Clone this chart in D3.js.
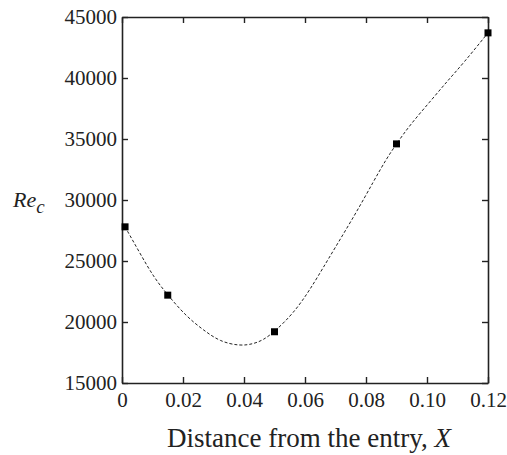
<!DOCTYPE html>
<html><head><meta charset="utf-8">
<script src="https://cdn.jsdelivr.net/npm/d3@7"></script>
<style>body{margin:0;background:#fff}svg{display:block}
svg text{font-family:"Liberation Serif","Tinos","DejaVu Serif",serif !important;}</style>
</head><body>
<svg id="c" width="507" height="455"></svg>
<script>
// Data points (markers)
const pointX = [0.001, 0.015, 0.050, 0.090, 0.120];
const pointY = [27800, 22200, 19200, 34600, 43700];
// Fitted curve
const curveX = [0.001, 0.0059, 0.0103, 0.015, 0.0212, 0.0267, 0.0321, 0.0387, 0.0430, 0.0463, 0.050, 0.0562, 0.0616, 0.0671, 0.0770, 0.0824, 0.0868, 0.090, 0.0944, 0.1010, 0.1065, 0.1119, 0.120];
const curveY = [27800, 25630, 23710, 22200, 20430, 19340, 18390, 18030, 18200, 18520, 19200, 20710, 22620, 24940, 29040, 31500, 33420, 34600, 36150, 38060, 39700, 41200, 43700];
const xTicks = [0, 0.02, 0.04, 0.06, 0.08, 0.10, 0.12];
const xTickLabels = ["0", "0.02", "0.04", "0.06", "0.08", "0.10", "0.12"];
const yTicks = [15000, 20000, 25000, 30000, 35000, 40000, 45000];

(function () {
const L = 122, R = 488, T = 17, B = 383;
const svg = d3.select("#c");
const x = d3.scaleLinear().domain([0, 0.12]).range([L, R]);
const y = d3.scaleLinear().domain([15000, 45000]).range([B, T]);

// curve
const line = d3.line().x(d => x(d[0])).y(d => y(d[1])).curve(d3.curveBasis);
svg.append("path").datum(curveX.map((v, i) => [v, curveY[i]]))
  .attr("d", line).attr("fill", "none").attr("stroke", "#222")
  .attr("stroke-width", 1).attr("stroke-dasharray", "3,2");

// axes
const tl = 6;
const gBottom = svg.append("g").attr("transform", `translate(0,${B})`)
  .call(d3.axisBottom(x).tickValues(xTicks).tickFormat((d, i) => xTickLabels[i]).tickSizeInner(-tl).tickSizeOuter(0).tickPadding(9));
const gTop = svg.append("g").attr("transform", `translate(0,${T})`)
  .call(d3.axisTop(x).tickValues(xTicks).tickFormat("").tickSizeInner(-tl).tickSizeOuter(0));
const gLeft = svg.append("g").attr("transform", `translate(${L},0)`)
  .call(d3.axisLeft(y).tickValues(yTicks).tickSizeInner(-tl).tickSizeOuter(0).tickPadding(5).tickFormat(d3.format("d")));
const gRight = svg.append("g").attr("transform", `translate(${R},0)`)
  .call(d3.axisRight(y).tickValues(yTicks).tickFormat("").tickSizeInner(-tl).tickSizeOuter(0));
[gBottom, gTop, gLeft, gRight].forEach(g => {
  g.attr("font-family", null);
  g.selectAll(".domain").attr("stroke", "#222").attr("stroke-width", 1.6);
  g.selectAll(".tick line").attr("stroke", "#222").attr("stroke-width", 1.4);
  g.selectAll("text").attr("font-size", 21).attr("fill", "#222");
});

// markers
const s = 7;
svg.append("g").selectAll("rect").data(pointX.map((v, i) => [v, pointY[i]])).join("rect")
  .attr("x", d => x(d[0]) - s / 2).attr("y", d => y(d[1]) - s / 2)
  .attr("width", s).attr("height", s).attr("fill", "#000");

// axis titles
const xt = svg.append("text").attr("x", 309).attr("y", 447).attr("text-anchor", "middle")
  .attr("font-size", 27).attr("fill", "#222");
xt.append("tspan").text("Distance from the entry, ");
xt.append("tspan").attr("font-style", "italic").text("X");

const yt = svg.append("text").attr("x", 13).attr("y", 207)
  .attr("font-size", 22).attr("font-style", "italic").attr("fill", "#222");
yt.append("tspan").text("Re");
yt.append("tspan").attr("font-size", 19).attr("dy", 6).text("c");
})();
</script>
</body></html>
